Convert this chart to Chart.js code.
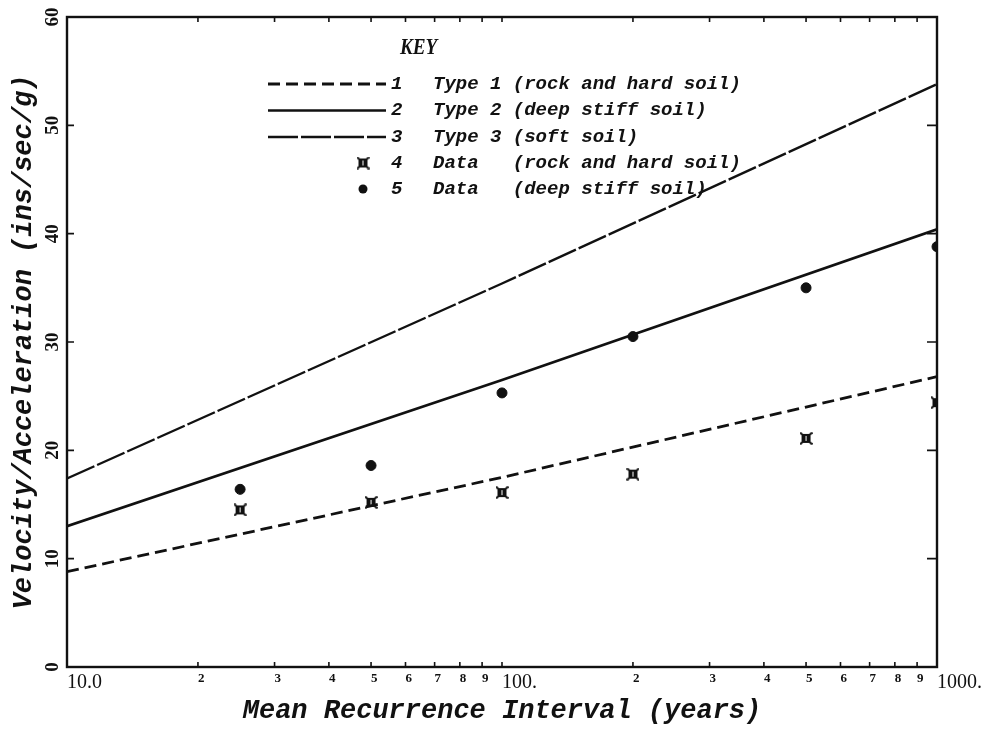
<!DOCTYPE html>
<html>
<head>
<meta charset="utf-8">
<title>Velocity/Acceleration x Mean Recurrence Interval</title>
<script src="https://cdn.jsdelivr.net/npm/chart.js@4.4.1/dist/chart.umd.min.js"></script>
<style>
  html, body { margin: 0; padding: 0; background: #fff; }
  canvas { display: block; }
</style>
</head>
<body>
<canvas id="grafico" width="986" height="729"></canvas>
<script>
// curvas de projeto (anos -> ins/sec/g)
var anosCurva = [10, 100, 1000];
var tipo1 = [8.8, 17.5, 26.8];
var tipo2 = [13.0, 26.5, 40.4];
var tipo3 = [17.4, 35.4, 53.8];

// pontos medidos
var anosDados = [25, 50, 100, 200, 500, 1000];
var dadosRocha = [14.5, 15.2, 16.1, 17.8, 21.1, 24.4];
var dadosRigido = [16.4, 18.6, 25.3, 30.5, 35.0, 38.8];

var ticksX = [10, 20, 30, 40, 50, 60, 70, 80, 90, 100, 200, 300, 400, 500, 600, 700, 800, 900, 1000];
var rotulosX = ['10.0', '2', '3', '4', '5', '6', '7', '8', '9', '100.', '2', '3', '4', '5', '6', '7', '8', '9', '1000.'];
var ticksY = [0, 10, 20, 30, 40, 50, 60];

var chaveNumeros = ['1', '2', '3', '4', '5'];
var chaveTextos = [
    'Type 1 (rock and hard soil)',
    'Type 2 (deep stiff soil)',
    'Type 3 (soft soil)',
    'Data   (rock and hard soil)',
    'Data   (deep stiff soil)'
];

var TINTA = '#111';
var fonteItalico = '"Liberation Mono", "Courier New", monospace';

function pares(xs, ys){
    return xs.map(function(v, i){ return {x: v, y: ys[i]}; });
}

// marcador "caixa com x" dos dados de rocha
function marcaCaixa(){
    var c = document.createElement('canvas');
    c.width = 13; c.height = 13;
    var g = c.getContext('2d');
    g.fillStyle = TINTA;
    g.fillRect(2, 2, 9, 9);
    g.strokeStyle = TINTA;
    g.lineWidth = 2;
    g.beginPath();
    g.moveTo(0.5, 0.5); g.lineTo(12.5, 12.5);
    g.moveTo(12.5, 0.5); g.lineTo(0.5, 12.5);
    g.stroke();
    g.strokeStyle = '#fff';
    g.lineWidth = 1;
    g.beginPath();
    g.moveTo(6.5, 4); g.lineTo(6.5, 9);
    g.stroke();
    return c;
}
var marcaRocha = marcaCaixa();

// moldura do grafico com marcas internas
const moldura = {
    id: 'moldura',
    afterDatasetsDraw(chart){
        const {ctx, chartArea: a, scales: {x, y}} = chart;
        ctx.save();
        ctx.strokeStyle = TINTA;
        ctx.lineWidth = 2.4;
        ctx.strokeRect(a.left, a.top, a.right - a.left, a.bottom - a.top);
        ctx.lineWidth = 1.6;
        ctx.beginPath();
        x.ticks.forEach(function(t){
            var px = x.getPixelForValue(t.value);
            if (px <= a.left + 1 || px >= a.right - 1) return;
            ctx.moveTo(px, a.bottom); ctx.lineTo(px, a.bottom - 5);
            ctx.moveTo(px, a.top); ctx.lineTo(px, a.top + 5);
        });
        y.ticks.forEach(function(t){
            var py = y.getPixelForValue(t.value);
            if (py <= a.top + 1 || py >= a.bottom - 1) return;
            ctx.moveTo(a.left, py); ctx.lineTo(a.left + 7, py);
            ctx.moveTo(a.right, py); ctx.lineTo(a.right - 10, py);
        });
        ctx.stroke();
        ctx.restore();
    }
};

// quadro KEY desenhado com os estilos dos proprios datasets
const chave = {
    id: 'chave',
    afterDatasetsDraw(chart){
        const ctx = chart.ctx;
        const ds = chart.data.datasets;
        ctx.save();
        ctx.fillStyle = TINTA;
        ctx.textBaseline = 'middle';

        ctx.save();
        ctx.translate(400, 48);
        ctx.scale(0.8, 1);
        ctx.font = 'italic bold 24px "Liberation Serif", serif';
        ctx.fillText('KEY', 0, 0);
        ctx.restore();

        var linhaY = [84, 110.5, 137, 163, 189];
        ds.forEach(function(d, i){
            var yy = linhaY[i];
            if (d.showLine === false){
                if (d.pointStyle === 'circle'){
                    ctx.beginPath();
                    ctx.arc(363, yy, 4.5, 0, Math.PI * 2);
                    ctx.fill();
                } else {
                    ctx.drawImage(d.pointStyle, 363 - 6.5, yy - 6.5);
                }
            } else {
                ctx.save();
                ctx.strokeStyle = d.borderColor;
                ctx.lineWidth = d.borderWidth;
                ctx.setLineDash(d.borderDash || []);
                ctx.beginPath();
                ctx.moveTo(268, yy);
                ctx.lineTo(386, yy);
                ctx.stroke();
                ctx.restore();
            }
            ctx.font = 'italic bold 19px ' + fonteItalico;
            ctx.fillText(chaveNumeros[i], 391, yy);
            ctx.fillText(chaveTextos[i], 433, yy);
        });
        ctx.restore();
    }
};

var ctx = document.getElementById('grafico');
var grafico = new Chart(ctx, {
    type: 'line',
    data: {
        datasets: [
            {
                label: 'Type 1 (rock and hard soil)',
                data: pares(anosCurva, tipo1),
                borderColor: TINTA, borderWidth: 2.8, borderDash: [12, 6],
                pointRadius: 0, fill: false, tension: 0
            },
            {
                label: 'Type 2 (deep stiff soil)',
                data: pares(anosCurva, tipo2),
                borderColor: TINTA, borderWidth: 2.6, borderDash: [],
                pointRadius: 0, fill: false, tension: 0
            },
            {
                label: 'Type 3 (soft soil)',
                data: pares(anosCurva, tipo3),
                borderColor: TINTA, borderWidth: 2.4, borderDash: [30, 3],
                pointRadius: 0, fill: false, tension: 0
            },
            {
                label: 'Data (rock and hard soil)',
                data: pares(anosDados, dadosRocha),
                showLine: false, pointStyle: marcaRocha, pointRadius: 6,
                borderColor: TINTA, backgroundColor: TINTA
            },
            {
                label: 'Data (deep stiff soil)',
                data: pares(anosDados, dadosRigido),
                showLine: false, pointStyle: 'circle', pointRadius: 5,
                borderWidth: 1, borderColor: TINTA, backgroundColor: TINTA
            }
        ]
    },
    options: {
        responsive: false,
        animation: false,
        layout: { padding: { top: 17, right: 49, left: 0, bottom: 0 } },
        plugins: {
            legend: { display: false },
            tooltip: { enabled: false }
        },
        scales: {
            x: {
                type: 'logarithmic',
                min: 10,
                max: 1000,
                afterBuildTicks: function(s){ s.ticks = ticksX.map(function(v){ return {value: v}; }); },
                afterFit: function(s){ s.height = 62; },
                grid: { display: false, drawTicks: false },
                border: { display: false },
                ticks: {
                    autoSkip: false,
                    maxRotation: 0,
                    minRotation: 0,
                    align: 'start',
                    padding: 4,
                    color: TINTA,
                    callback: function(v, i){ return rotulosX[i]; },
                    font: function(c){
                        var v = c.tick ? c.tick.value : 10;
                        var maior = (v === 10 || v === 100 || v === 1000);
                        return maior
                            ? { family: '"Liberation Serif", serif', size: 20 }
                            : { family: '"Liberation Serif", serif', size: 13, weight: 'bold' };
                    }
                },
                title: {
                    display: true,
                    text: 'Mean Recurrence Interval (years)',
                    color: TINTA,
                    padding: { top: 0, bottom: 2 },
                    font: { family: fonteItalico, size: 27, style: 'italic', weight: 'bold' }
                }
            },
            y: {
                min: 0,
                max: 60,
                afterBuildTicks: function(s){ s.ticks = ticksY.map(function(v){ return {value: v}; }); },
                afterFit: function(s){ s.width = 67; },
                grid: { display: false, drawTicks: false },
                border: { display: false },
                ticks: {
                    minRotation: 90,
                    maxRotation: 90,
                    crossAlign: 'center',
                    padding: 4,
                    color: TINTA,
                    font: { family: '"Liberation Serif", serif', size: 19, weight: 'bold' }
                },
                title: {
                    display: true,
                    text: 'Velocity/Acceleration (ins/sec/g)',
                    color: TINTA,
                    padding: { top: 8, bottom: 0 },
                    font: { family: fonteItalico, size: 27, style: 'italic', weight: 'bold' }
                }
            }
        }
    },
    plugins: [moldura, chave]
});
</script>
</body>
</html>
